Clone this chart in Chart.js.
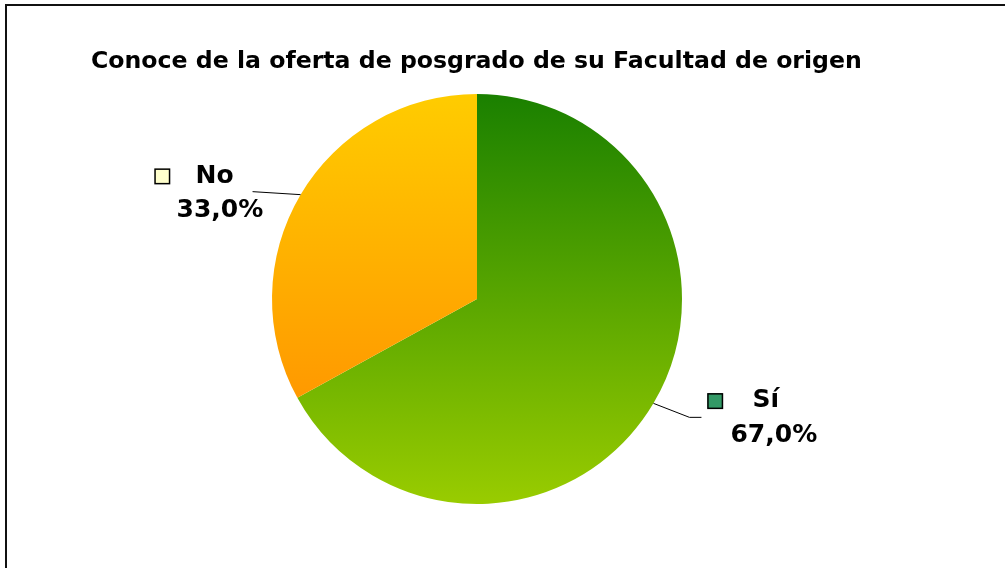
<!DOCTYPE html>
<html>
<head>
<meta charset="utf-8">
<script src="https://cdn.jsdelivr.net/npm/chart.js@4/dist/chart.umd.min.js"></script>
<style>
  html, body { margin: 0; padding: 0; background: #fff; }
  #wrap { position: relative; width: 1005px; height: 568px; }
</style>
</head>
<body>
<div id="wrap"><canvas id="c" width="1005" height="568"></canvas></div>
<script>
const titleText = 'Conoce de la oferta de posgrado de su Facultad de origen';
const categories = ['Sí', 'No'];
const values = [67.0, 33.0];
const valueLabels = ['67,0%', '33,0%'];
const legendSwatches = ['#339966', '#FFFFCC'];
const gradientStops = [['#1A8000', '#99CC00'], ['#FFCC00', '#FF9900']];

const FONT = '"DejaVu Sans", Verdana, sans-serif';

function sliceGradient(ctx) {
  const chart = ctx.chart;
  const area = chart.chartArea;
  if (!area) return gradientStops[ctx.dataIndex][0];
  const cx = (area.left + area.right) / 2;
  const cy = (area.top + area.bottom) / 2;
  const r = Math.min(area.right - area.left, area.bottom - area.top) / 2;
  const total = values.reduce((a, b) => a + b, 0);
  let start = -Math.PI / 2;
  for (let i = 0; i < ctx.dataIndex; i++) start += values[i] / total * 2 * Math.PI;
  const end = start + values[ctx.dataIndex] / total * 2 * Math.PI;
  let ys = [cy, cy + r * Math.sin(start), cy + r * Math.sin(end)];
  for (let k = -4; k <= 4; k++) {
    const a = Math.PI / 2 * k;
    if (a >= start && a <= end) ys.push(cy + r * Math.sin(a));
  }
  const y0 = Math.min(...ys), y1 = Math.max(...ys);
  const g = chart.ctx.createLinearGradient(0, y0, 0, y1);
  g.addColorStop(0, gradientStops[ctx.dataIndex][0]);
  g.addColorStop(1, gradientStops[ctx.dataIndex][1]);
  return g;
}

const framePlugin = {
  id: 'frame',
  beforeDraw(chart) {
    const c = chart.ctx;
    c.save();
    c.fillStyle = '#fff';
    c.fillRect(0, 0, chart.width, chart.height);
    c.strokeStyle = '#111';
    c.lineWidth = 2;
    c.beginPath();
    c.moveTo(6, chart.height + 2);
    c.lineTo(6, 5);
    c.lineTo(chart.width + 2, 5);
    c.stroke();
    // title, sized to fill its width
    c.fillStyle = '#000';
    c.textBaseline = 'alphabetic';
    c.textAlign = 'left';
    c.font = 'bold 20px ' + FONT;
    const w = c.measureText(titleText).width;
    const size = 20 * 771 / w;
    c.font = 'bold ' + size.toFixed(2) + 'px ' + FONT;
    c.fillText(titleText, 91, 68);
    c.restore();
  }
};

const labelLayout = [
  { line: [[36, 14], [48, 14]], sw: [54, -10], name: [99, 4], val: [77, 39] },
  { line: [[-48, -3]], sw: [-146, -26], name: [-105, -12], val: [-124, 22] }
];

const labelPlugin = {
  id: 'sliceLabels',
  afterDatasetsDraw(chart) {
    const c = chart.ctx;
    const meta = chart.getDatasetMeta(0);
    meta.data.forEach((arc, i) => {
      const p = arc.getProps(['x', 'y', 'startAngle', 'endAngle', 'outerRadius'], true);
      const mid = (p.startAngle + p.endAngle) / 2;
      const ex = p.x + Math.cos(mid) * p.outerRadius;
      const ey = p.y + Math.sin(mid) * p.outerRadius;
      const L = labelLayout[i];
      c.save();
      c.strokeStyle = '#000';
      c.lineWidth = 1;
      c.beginPath();
      c.moveTo(ex, ey);
      L.line.forEach(pt => c.lineTo(ex + pt[0], ey + pt[1]));
      c.stroke();
      c.fillStyle = legendSwatches[i];
      c.fillRect(ex + L.sw[0], ey + L.sw[1], 15, 15);
      c.strokeStyle = '#000';
      c.lineWidth = 1.5;
      c.strokeRect(ex + L.sw[0] + 0.5, ey + L.sw[1] + 0.5, 14.5, 14.5);
      c.fillStyle = '#000';
      c.font = 'bold 25px ' + FONT;
      c.textAlign = 'left';
      c.textBaseline = 'alphabetic';
      c.fillText(categories[i], ex + L.name[0], ey + L.name[1]);
      c.fillText(valueLabels[i], ex + L.val[0], ey + L.val[1]);
      c.restore();
    });
  }
};

new Chart(document.getElementById('c'), {
  type: 'pie',
  data: {
    labels: categories,
    datasets: [{
      data: values,
      backgroundColor: sliceGradient,
      borderWidth: 0
    }]
  },
  options: {
    responsive: false,
    animation: false,
    layout: { padding: { top: 94, bottom: 64, left: 272, right: 323 } },
    plugins: {
      legend: { display: false },
      title: { display: false },
      tooltip: { enabled: false }
    }
  },
  plugins: [framePlugin, labelPlugin]
});
</script>
</body>
</html>
